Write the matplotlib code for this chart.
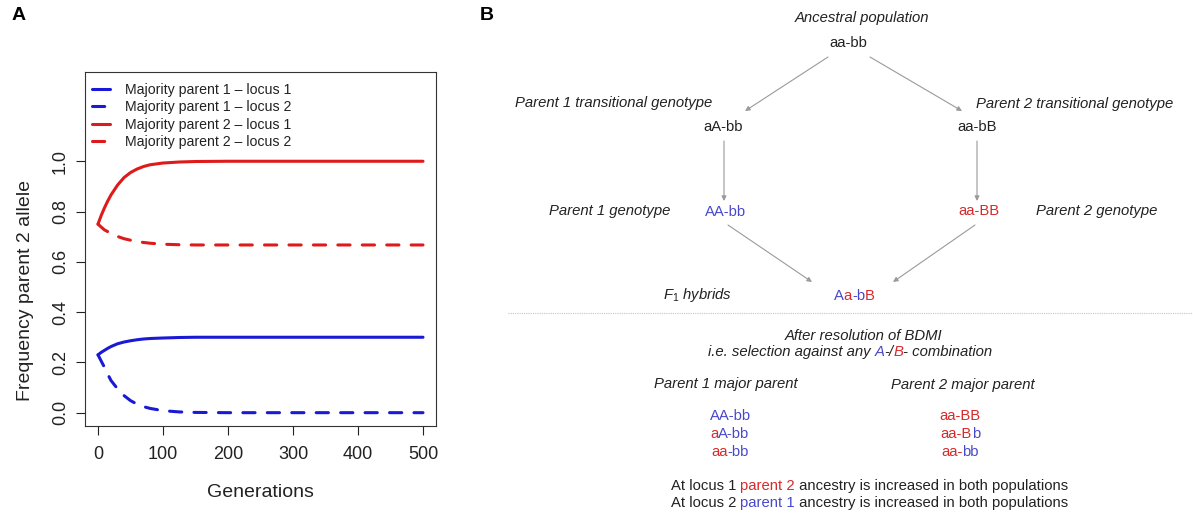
import matplotlib
matplotlib.use("Agg")
import matplotlib.pyplot as plt
from matplotlib.textpath import TextPath
from matplotlib.font_manager import FontProperties

plt.rcParams['font.family'] = ['Liberation Sans', 'DejaVu Sans']
plt.rcParams['mathtext.fontset'] = 'custom'
plt.rcParams['mathtext.it'] = 'Liberation Sans:italic'
plt.rcParams['mathtext.rm'] = 'Liberation Sans'

# allele frequency trajectories (frequency of parent 2 allele)
generations = [0, 5, 10, 15, 20, 30, 40, 50, 60, 70, 80, 100, 125, 150, 200, 300, 400, 500]
p1_locus1 = [0.23, 0.24, 0.248, 0.256, 0.263, 0.274, 0.281, 0.286, 0.29, 0.293, 0.295,
             0.297, 0.299, 0.3, 0.3, 0.3, 0.3, 0.3]
p1_locus2 = [0.23, 0.205, 0.18, 0.153, 0.128, 0.095, 0.068, 0.048, 0.034, 0.024, 0.017,
             0.008, 0.003, 0.001, 0.0, 0.0, 0.0, 0.0]
p2_locus1 = [0.75, 0.785, 0.815, 0.842, 0.866, 0.905, 0.935, 0.955, 0.969, 0.979, 0.986,
             0.993, 0.997, 0.999, 1.0, 1.0, 1.0, 1.0]
p2_locus2 = [0.75, 0.738, 0.727, 0.72, 0.713, 0.701, 0.692, 0.686, 0.681, 0.677, 0.674,
             0.67, 0.668, 0.667, 0.667, 0.667, 0.667, 0.667]

series_labels = ["Majority parent 1 \u2013 locus 1", "Majority parent 1 \u2013 locus 2",
                 "Majority parent 2 \u2013 locus 1", "Majority parent 2 \u2013 locus 2"]
x_ticks = [0, 100, 200, 300, 400, 500]
y_ticks = [0.0, 0.2, 0.4, 0.6, 0.8, 1.0]

BLUE = "#1a1ad6"
RED = "#de1a1a"
TXT_BLUE = "#4848cc"
TXT_RED = "#d82a2a"
DARK = "#222222"
GREY = "#9a9a9a"

W, H = 1193, 514
fig = plt.figure(figsize=(W / 100, H / 100), dpi=100)

# ---- panel A ----
ax = fig.add_axes([85 / W, 1 - 426 / H, (436 - 85) / W, (426 - 72) / H])
lw = 2.2
dash = (0, (4, 4))
ax.plot(generations, p1_locus1, color=BLUE, lw=lw, solid_capstyle="round", label=series_labels[0])
ax.plot(generations, p1_locus2, color=BLUE, lw=lw, ls=dash, dash_capstyle="round", label=series_labels[1])
ax.plot(generations, p2_locus1, color=RED, lw=lw, solid_capstyle="round", label=series_labels[2])
ax.plot(generations, p2_locus2, color=RED, lw=lw, ls=dash, dash_capstyle="round", label=series_labels[3])

ax.set_xlim(-20, 520)
ax.set_ylim(-0.053, 1.355)
ax.set_xticks(x_ticks)
ax.set_xticklabels([str(v) for v in x_ticks])
ax.set_yticks(y_ticks)
ax.set_yticklabels(["%.1f" % v for v in y_ticks], rotation=90, va="center")
ax.tick_params(length=6.5, width=0.8, labelsize=13, colors="#222222")
ax.tick_params(axis="x", pad=8)
ax.tick_params(axis="y", pad=5)
for sp in ax.spines.values():
    sp.set_linewidth(0.8)
    sp.set_color("#333333")

ax.set_xlabel("Generations", fontsize=14, color=DARK)
ax.set_ylabel("Frequency parent 2 allele", fontsize=14, color=DARK)
ax.xaxis.set_label_coords(0.5, -0.164)
ax.yaxis.set_label_coords(-0.146, 0.384)

ax.legend(loc="upper left", bbox_to_anchor=(0.02, 0.970), frameon=False, fontsize=10.2,
          handlelength=1.25, handletextpad=1.05, labelspacing=0.25, borderpad=0,
          borderaxespad=0, labelcolor=DARK)

# ---- panel B: diagram drawn in pixel units ----
dax = fig.add_axes([0, 0, 1, 1])
dax.set_xlim(0, W)
dax.set_ylim(H, 0)
dax.axis("off")

FS = 10.7
FS_PX = FS * 100 / 72


def label(x, y, s, style="italic", color=DARK, size=FS):
    dax.text(x, y, s, ha="center", va="center", style=style, color=color, fontsize=size)


def ink_right(s, prop):
    return TextPath((0, 0), s, size=FS_PX, prop=prop).get_extents().x1


def multicolor(x, y, parts, style="normal"):
    # pen position of each piece taken from the glyph outlines of the joined string
    prop = FontProperties(family="Liberation Sans", style=style)
    full = "".join(s for s, _ in parts)
    ext = TextPath((0, 0), full, size=FS_PX, prop=prop).get_extents()
    start = x - (ext.x0 + ext.x1) / 2
    prefix = ""
    for s, c in parts:
        off = ink_right(prefix + s, prop) - ink_right(s, prop) if prefix else 0
        dax.text(start + off, y, s, color=c, style=style, fontsize=FS, ha="left", va="center")
        prefix += s


def arrow(start, end):
    dax.annotate("", xy=end, xytext=start,
                 arrowprops=dict(arrowstyle="-|>", color=GREY, lw=0.8, mutation_scale=7,
                                 shrinkA=0, shrinkB=0))


fig.text(18.5 / W, 1 - 16 / H, "A", fontsize=14, fontweight="bold", ha="center", va="center")
fig.text(487 / W, 1 - 16 / H, "B", fontsize=14, fontweight="bold", ha="center", va="center")

label(862, 18, "Ancestral population")
label(848, 43, "aa-bb", style="normal")
arrow((828, 57), (745, 111))
arrow((870, 57), (962, 111))

label(614, 103, "Parent 1 transitional genotype")
label(1075, 104, "Parent 2 transitional genotype")
label(723, 127, "aA-bb", style="normal")
label(977, 127, "aa-bB", style="normal")
arrow((724, 141), (724, 201))
arrow((977, 141), (977, 201))

label(610, 211, "Parent 1 genotype")
label(726, 212, "AA-bb", style="normal", color=TXT_BLUE)
label(979, 211, "aa-BB", style="normal", color=TXT_RED)
label(1097, 211, "Parent 2 genotype")
arrow((728, 225), (812, 282))
arrow((975, 225), (893, 282))

label(698, 295, r"$\mathit{F}_{\mathit{1}}$ hybrids")
multicolor(854, 296, [("A", TXT_BLUE), ("a", TXT_RED), ("-b", TXT_BLUE), ("B", TXT_RED)])

dax.plot([508, W], [313, 313], ls=(0, (1, 1)), color="#c4c4c4", lw=0.8)

label(864, 336, "After resolution of BDMI")
multicolor(850, 352, [("i.e. selection against any ", DARK), ("A", TXT_BLUE), ("-/", DARK),
                      ("B", TXT_RED), ("- combination", DARK)], style="italic")

label(726, 384, "Parent 1 major parent")
label(963, 385, "Parent 2 major parent")

multicolor(730, 416, [("AA-bb", TXT_BLUE)])
multicolor(730, 434, [("a", TXT_RED), ("A-bb", TXT_BLUE)])
multicolor(730, 452, [("aa", TXT_RED), ("-bb", TXT_BLUE)])
multicolor(960, 416, [("aa-BB", TXT_RED)])
multicolor(960, 434, [("aa-B", TXT_RED), ("b", TXT_BLUE)])
multicolor(960, 452, [("aa-", TXT_RED), ("bb", TXT_BLUE)])

multicolor(869, 486, [("At locus 1 ", DARK), ("parent 2", TXT_RED),
                      (" ancestry is increased in both populations", DARK)])
multicolor(869, 503, [("At locus 2 ", DARK), ("parent 1", TXT_BLUE),
                      (" ancestry is increased in both populations", DARK)])

fig.savefig("out.png", dpi=100)
